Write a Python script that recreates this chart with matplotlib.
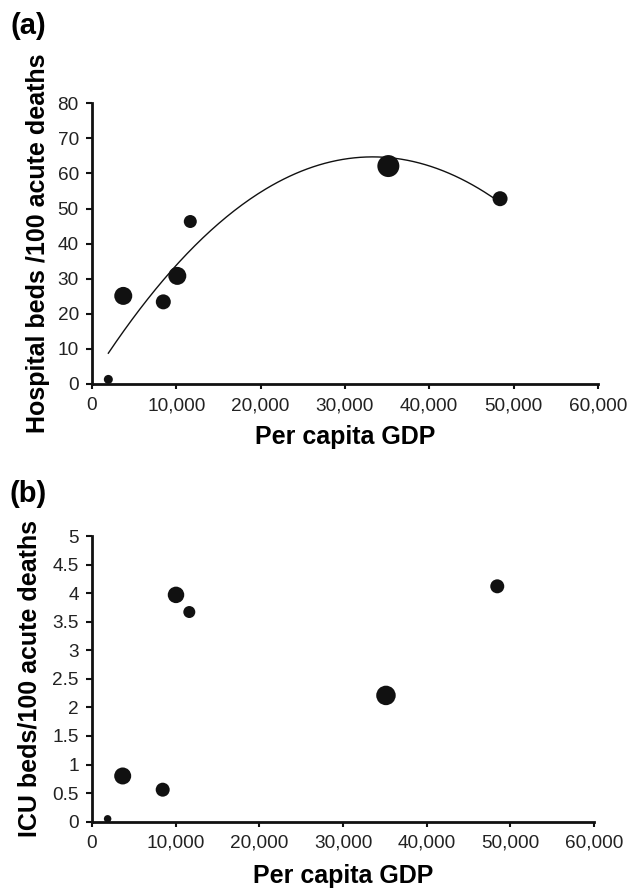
import numpy as np
import matplotlib.pyplot as plt

plt.rcParams['font.family'] = ['Liberation Sans', 'DejaVu Sans']

# per capita GDP of each country (same order in both panels)
gdp_a = [1940, 3710, 8460, 10120, 11660, 35150, 48400]
hosp_beds = [1.3, 25.1, 23.4, 30.8, 46.3, 62.1, 52.8]

gdp_b = [1870, 3670, 8450, 10040, 11630, 35130, 48430]
icu_beds = [0.05, 0.80, 0.56, 3.97, 3.67, 2.21, 4.12]

# marker diameters (px)
dot_a = [9, 18, 15, 18, 13, 22, 15]
dot_b = [7.5, 17, 14, 16.5, 12, 19.5, 14]

x_ticks = [0, 10000, 20000, 30000, 40000, 50000, 60000]
x_ticklabels = ['0', '10,000', '20,000', '30,000', '40,000', '50,000', '60,000']
y_ticks_a = [0, 10, 20, 30, 40, 50, 60, 70, 80]
y_ticks_b = [0, 0.5, 1, 1.5, 2, 2.5, 3, 3.5, 4, 4.5, 5]
y_ticklabels_b = ['0', '0.5', '1', '1.5', '2', '2.5', '3', '3.5', '4', '4.5', '5']

fig = plt.figure(figsize=(6.3, 8.94), dpi=100)
ax_a = fig.add_axes([0.146, 0.5705, 0.803, 0.314])
ax_b = fig.add_axes([0.146, 0.0809, 0.797, 0.3195])

def style(ax):
    for s in ['top', 'right']:
        ax.spines[s].set_visible(False)
    for s in ['left', 'bottom']:
        ax.spines[s].set_linewidth(2)
        ax.spines[s].set_color('#111111')
    ax.tick_params(axis='both', direction='out', width=1.5, color='#111111',
                   labelsize=13.7, labelcolor='#222222')
    ax.tick_params(axis='x', length=3.5, pad=6)
    ax.tick_params(axis='y', length=4.5, pad=5)
    ax.set_xlim(0, 60000)
    ax.set_xticks(x_ticks)
    ax.set_xticklabels(x_ticklabels)
    ax.set_xlabel('Per capita GDP', fontsize=18, fontweight='bold')

def size(d):
    return [(v * 0.72) ** 2 for v in d]

# (a) hospital beds with 2nd order polynomial trendline
style(ax_a)
coef = np.polyfit(gdp_a, hosp_beds, 2)
xs = np.linspace(min(gdp_a), max(gdp_a), 200)
ax_a.plot(xs, np.polyval(coef, xs), color='#111111', lw=1.0, zorder=2)
ax_a.scatter(gdp_a, hosp_beds, s=size(dot_a), color='#111111', lw=0, zorder=3, clip_on=False)
ax_a.set_ylim(0, 80)
ax_a.set_yticks(y_ticks_a)
ax_a.set_ylabel('Hospital beds /100 acute deaths', fontsize=18, fontweight='bold')
ax_a.yaxis.set_label_coords(-0.083, 0.5)
ax_a.xaxis.set_label_coords(0.5, -0.146)

# (b) ICU beds
style(ax_b)
ax_b.scatter(gdp_b, icu_beds, s=size(dot_b), color='#111111', lw=0, zorder=3, clip_on=False)
ax_b.set_ylim(0, 5)
ax_b.set_yticks(y_ticks_b)
ax_b.set_yticklabels(y_ticklabels_b)
ax_b.set_ylabel('ICU beds/100 acute deaths', fontsize=18, fontweight='bold')
ax_b.yaxis.set_label_coords(-0.0996, 0.5)
ax_b.xaxis.set_label_coords(0.5, -0.148)

fig.text(28 / 630, 1 - 26 / 894, '(a)', fontsize=21, fontweight='bold', ha='center', va='center')
fig.text(28 / 630, 1 - 494 / 894, '(b)', fontsize=21, fontweight='bold', ha='center', va='center')

fig.savefig('out.png', dpi=100)
